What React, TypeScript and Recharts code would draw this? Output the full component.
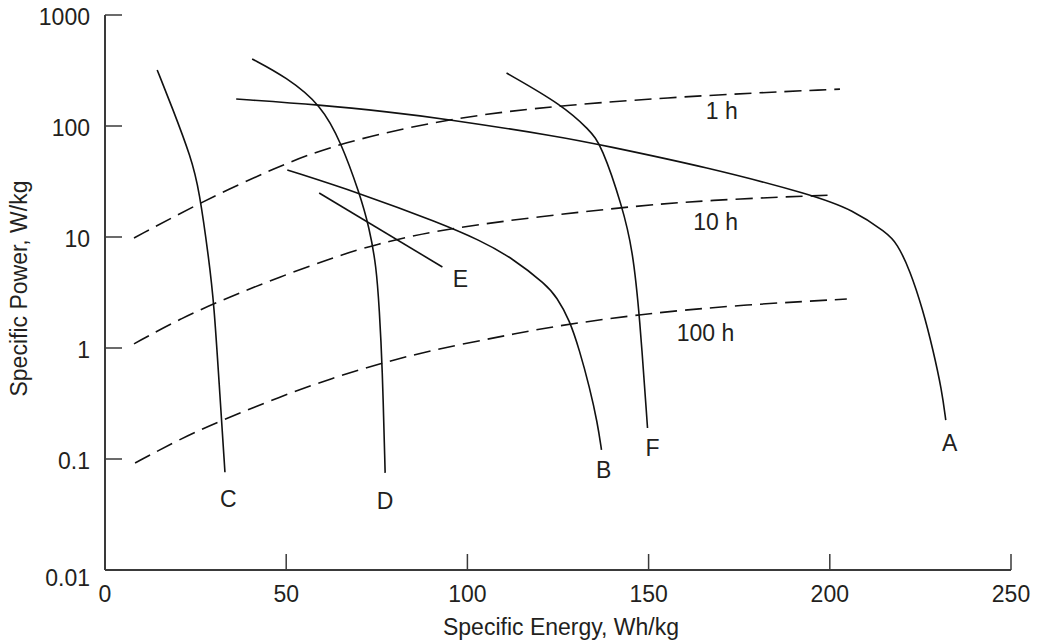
import React from 'react';
import { LineChart, Line, XAxis, YAxis, ReferenceDot, Label } from 'recharts';

// Axis ticks
const xTicks = [0, 50, 100, 150, 200, 250];
const yTicks = [0.01, 0.1, 1, 10, 100, 1000];

// Battery curves (specific energy Wh/kg, specific power W/kg)
const curveA = [
  { e: 36.2, p: 175 }, { e: 59.7, p: 154.6 }, { e: 78.5, p: 133.7 }, { e: 92.3, p: 118 },
  { e: 126.2, p: 79.6 }, { e: 137.0, p: 67.4 }, { e: 166.0, p: 42.7 }, { e: 195.3, p: 23.9 },
  { e: 206.4, p: 17.5 }, { e: 215.7, p: 10.9 }, { e: 218.5, p: 8.83 }, { e: 222.1, p: 5.04 },
  { e: 225.7, p: 2.2 }, { e: 228.5, p: 0.96 }, { e: 230.9, p: 0.418 }, { e: 232.0, p: 0.224 },
];
const curveB = [
  { e: 50.3, p: 40.2 }, { e: 70.2, p: 24.9 }, { e: 92.3, p: 13.4 }, { e: 103.3, p: 9.4 },
  { e: 112.4, p: 6.47 }, { e: 121.8, p: 3.7 }, { e: 124.6, p: 2.88 }, { e: 128.2, p: 1.79 },
  { e: 130.9, p: 0.96 }, { e: 133.7, p: 0.445 }, { e: 135.9, p: 0.211 }, { e: 137.0, p: 0.121 },
];
const curveC = [
  { e: 14.4, p: 320 }, { e: 18.5, p: 148 }, { e: 23.8, p: 51.5 }, { e: 26.0, p: 26.5 },
  { e: 28.7, p: 6.2 }, { e: 30.1, p: 2.44 }, { e: 31.5, p: 0.48 }, { e: 33.1, p: 0.076 },
];
const curveD = [
  { e: 40.6, p: 402 }, { e: 50.0, p: 276 }, { e: 59.7, p: 154.6 }, { e: 65.2, p: 70.3 },
  { e: 70.2, p: 24.9 }, { e: 72.9, p: 12.3 }, { e: 74.9, p: 5.37 }, { e: 75.7, p: 2.2 },
  { e: 76.5, p: 0.733 }, { e: 77.3, p: 0.075 },
];
const curveE = [
  { e: 59.1, p: 24.9 }, { e: 93.1, p: 5.37 },
];
const curveF = [
  { e: 110.8, p: 300 }, { e: 126.2, p: 154.6 }, { e: 133.7, p: 92 }, { e: 137.0, p: 67.4 },
  { e: 142.8, p: 18.6 }, { e: 145.6, p: 7.64 }, { e: 147.5, p: 2.02 }, { e: 149.7, p: 0.19 },
];

// Constant discharge-time lines
const hour1 = [
  { e: 8.0, p: 9.8 }, { e: 26.0, p: 20.2 }, { e: 47.2, p: 42.7 }, { e: 64.6, p: 70.3 },
  { e: 95.0, p: 118 }, { e: 126.2, p: 154.6 }, { e: 166.0, p: 190 }, { e: 202.8, p: 215 },
];
const hour10 = [
  { e: 8.0, p: 1.09 }, { e: 21.0, p: 1.86 }, { e: 34.3, p: 2.88 }, { e: 48.1, p: 4.36 },
  { e: 62.7, p: 6.47 }, { e: 73.8, p: 8.47 }, { e: 95.0, p: 12.3 }, { e: 142.8, p: 18.6 },
  { e: 166.0, p: 21.5 }, { e: 200.8, p: 23.9 },
];
const hour100 = [
  { e: 8.3, p: 0.092 }, { e: 21.3, p: 0.155 }, { e: 32.3, p: 0.224 }, { e: 48.1, p: 0.362 },
  { e: 62.7, p: 0.537 }, { e: 76.5, p: 0.733 }, { e: 90.3, p: 0.96 }, { e: 108.8, p: 1.26 },
  { e: 122.7, p: 1.55 }, { e: 147.5, p: 2.02 }, { e: 175.1, p: 2.44 }, { e: 204.7, p: 2.76 },
];

// In-plot labels
const labelTexts = ['1 h', '10 h', '100 h', 'A', 'B', 'C', 'D', 'E', 'F'];
const labelE = [170.2, 168.5, 165.7, 233.1, 137.6, 34.0, 77.3, 98.1, 151.1];
const labelP = [136.5, 13.6, 1.365, 0.139, 0.0796, 0.0437, 0.0419, 4.19, 0.126];

const solidSeries = [curveA, curveB, curveC, curveD, curveE, curveF];
const dashedSeries = [hour1, hour10, hour100];

const FONT = '"Liberation Sans", Arial, Helvetica, sans-serif';
const TEXT = '#231f20';
const AXIS = '#3a3a3a';
const LINE = '#111111';
const FS = 23;

const XTick = (props: any) => {
  const { x, y, payload } = props;
  return (
    <g>
      <line x1={x} y1={y} x2={x} y2={y - 16} stroke={AXIS} strokeWidth={1.5} />
      <text x={x} y={y + 32} textAnchor="middle" fill={TEXT} fontSize={FS} fontFamily={FONT}>
        {payload.value}
      </text>
    </g>
  );
};

const YTick = (props: any) => {
  const { x, y, payload } = props;
  const dy = payload.value === 0.01 ? 16 : 10;
  return (
    <g>
      <line x1={x} y1={y} x2={x + 17} y2={y} stroke={AXIS} strokeWidth={1.5} />
      <text x={x - 15} y={y + dy} textAnchor="end" fill={TEXT} fontSize={FS} fontFamily={FONT}>
        {String(payload.value)}
      </text>
    </g>
  );
};

const XTitle = (props: any) => {
  const vb = props.viewBox;
  const cx = vb.x + vb.width / 2 + 3;
  const by = vb.y + 65;
  return (
    <text x={cx} y={by} textAnchor="middle" fill={TEXT} fontSize={FS} fontFamily={FONT}>
      Specific Energy, Wh/kg
    </text>
  );
};

const YTitle = (props: any) => {
  const vb = props.viewBox;
  const cx = vb.x + 27;
  const cy = vb.y + vb.height / 2 - 4;
  return (
    <text
      x={cx}
      y={cy}
      transform={`rotate(-90, ${cx}, ${cy})`}
      textAnchor="middle"
      fill={TEXT}
      fontSize={FS}
      fontFamily={FONT}
    >
      Specific Power, W/kg
    </text>
  );
};

export default function App() {
  return (
    <div style={{ position: 'absolute', left: 0, top: 0, background: '#fff' }}>
      <LineChart width={1042} height={642} margin={{ top: 15, right: 31, left: 0, bottom: 0 }}>
        <XAxis
          type="number"
          dataKey="e"
          domain={[0, 250]}
          ticks={xTicks}
          allowDataOverflow
          height={72}
          tickLine={false}
          tickSize={0}
          tickMargin={0}
          tick={<XTick />}
          axisLine={{ stroke: AXIS, strokeWidth: 2 }}
          interval={0}
        >
          <Label content={<XTitle />} />
        </XAxis>
        <YAxis
          type="number"
          dataKey="p"
          scale="log"
          domain={[0.01, 1000]}
          ticks={yTicks}
          allowDataOverflow
          width={105}
          tickLine={false}
          tickSize={0}
          tickMargin={0}
          tick={<YTick />}
          axisLine={{ stroke: AXIS, strokeWidth: 2 }}
          interval={0}
        >
          <Label content={<YTitle />} />
        </YAxis>
        {dashedSeries.map((d, i) => (
          <Line
            key={`h${i}`}
            data={d}
            dataKey="p"
            type="basis"
            stroke={LINE}
            strokeWidth={1.6}
            strokeDasharray="17 8"
            dot={false}
            activeDot={false}
            isAnimationActive={false}
          />
        ))}
        {solidSeries.map((d, i) => (
          <Line
            key={`s${i}`}
            data={d}
            dataKey="p"
            type="basis"
            stroke={LINE}
            strokeWidth={1.6}
            dot={false}
            activeDot={false}
            isAnimationActive={false}
          />
        ))}
        {labelTexts.map((t, i) => (
          <ReferenceDot
            key={`l${i}`}
            x={labelE[i]}
            y={labelP[i]}
            r={0}
            fill="none"
            stroke="none"
          >
            <Label value={t} position="center" fill={TEXT} fontSize={FS} fontFamily={FONT} />
          </ReferenceDot>
        ))}
      </LineChart>
    </div>
  );
}
